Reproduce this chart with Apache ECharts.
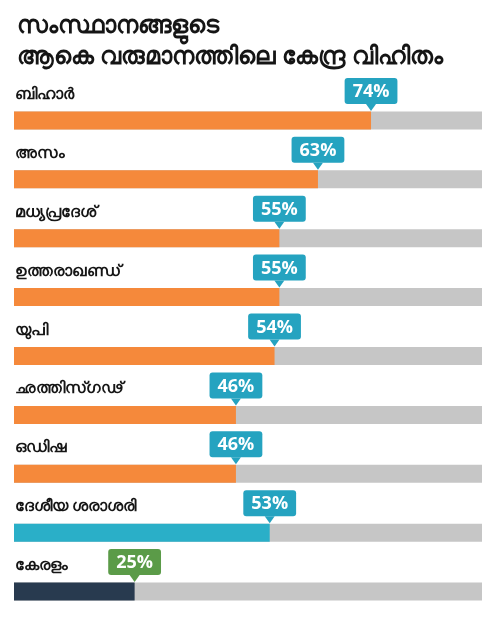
<!DOCTYPE html>
<html>
<head>
<meta charset="utf-8">
<script src="https://cdn.jsdelivr.net/npm/echarts@6/dist/echarts.min.js"></script>
<style>
  html, body { margin: 0; padding: 0; background: #fff; }
  #main { width: 501px; height: 621px; }
</style>
</head>
<body>
<div id="main"></div>
<script>
  // സംസ്ഥാനങ്ങൾ
  var states = ['ബിഹാർ', 'അസം', 'മധ്യപ്രദേശ്', 'ഉത്തരാഖണ്ഡ്', 'യുപി', 'ഛത്തിസ്ഗഢ്', 'ഒഡിഷ', 'ദേശീയ ശരാശരി', 'കേരളം'];
  var share = [74, 63, 55, 55, 54, 46, 46, 53, 25];

  var barColors = ['#f5893b', '#f5893b', '#f5893b', '#f5893b', '#f5893b', '#f5893b', '#f5893b', '#2aafc8', '#283a4f'];
  var tagColors = ['#25a3c0', '#25a3c0', '#25a3c0', '#25a3c0', '#25a3c0', '#25a3c0', '#25a3c0', '#25a3c0', '#5b9b48'];

  var tags = share.map(function (v, i) {
    return {
      value: [v, states[i]],
      itemStyle: { color: tagColors[i], opacity: 1 },
      label: { backgroundColor: tagColors[i] }
    };
  });

  var myChart = echarts.init(document.getElementById('main'));
  myChart.setOption({
    backgroundColor: '#fff',
    animation: false,
    title: {
      text: 'സംസ്ഥാനങ്ങളുടെ\nആകെ വരുമാനത്തിലെ കേന്ദ്ര വിഹിതം',
      left: 12,
      top: 6,
      textStyle: {
        fontSize: 24,
        fontWeight: 'bold',
        color: '#151515',
        lineHeight: 31,
        fontFamily: 'Noto Sans'
      }
    },
    grid: { left: 14, width: 468, top: 91, height: 533 },
    xAxis: { type: 'value', min: 0, max: 97, show: false },
    yAxis: { type: 'category', data: states, inverse: true, show: false },
    series: [
      {
        type: 'bar',
        data: share,
        barWidth: 18,
        showBackground: true,
        backgroundStyle: { color: '#c6c6c6' },
        itemStyle: {
          color: function (p) { return barColors[p.dataIndex]; }
        },
        label: {
          show: true,
          position: [1, -25],
          formatter: function (p) { return p.name; },
          color: '#151515',
          fontSize: 16,
          fontWeight: 'bold',
          fontFamily: 'Noto Sans'
        },
        z: 2
      },
      {
        type: 'scatter',
        data: tags,
        symbol: 'triangle',
        symbolRotate: 180,
        symbolSize: [10, 7],
        symbolOffset: [0, -13],
        itemStyle: { opacity: 1 },
        label: {
          show: true,
          position: 'top',
          distance: 0,
          formatter: function (p) { return p.value[0] + '%'; },
          borderRadius: 3,
          padding: [5, 8, 3, 8],
          color: '#fff',
          fontSize: 18,
          fontWeight: 'bold',
          fontFamily: 'Open Sans'
        },
        z: 5
      }
    ]
  });
</script>
</body>
</html>
